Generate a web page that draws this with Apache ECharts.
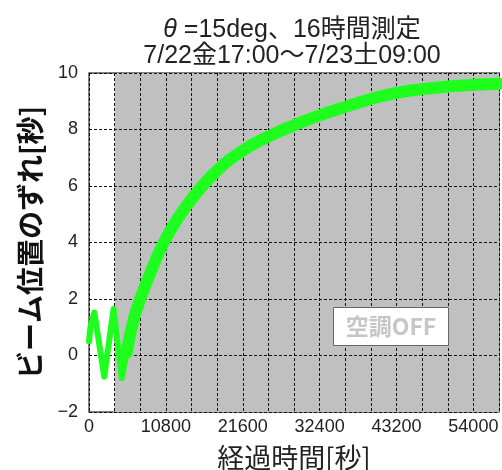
<!DOCTYPE html>
<html>
<head>
<meta charset="utf-8">
<script src="https://cdn.jsdelivr.net/npm/echarts@6/dist/echarts.min.js"></script>
<style>
  html, body { margin: 0; padding: 0; background: #fff; }
  #chart { width: 502px; height: 470px; }
</style>
</head>
<body>
<div id="chart"></div>
<script>
// Beam position shift over a 16 h run: air conditioning cycles first, then is switched off
const zigzagTime  = [0, 200, 750, 2150, 3450, 4600, 5300];
const zigzagShift = [0.5, 1.0, 1.52, -0.75, 1.65, -0.8, 0.1];

const driftTime  = [5300, 6200, 7200, 8600, 10400, 12600, 15100, 18000, 21600, 25200,
                    28800, 32400, 36000, 39600, 43200, 46800, 50400, 54000, 57600];
const driftShift = [0.1, 1.2, 2.0, 2.9, 3.95, 4.9, 5.75, 6.55, 7.25, 7.75,
                    8.15, 8.5, 8.8, 9.08, 9.3, 9.43, 9.52, 9.58, 9.62];

const acOffStart = 3600;
const runEnd = 57600;
const xGridStep = 3600;
const xLabelStep = 10800;
const yTicks = [-2, 0, 2, 4, 6, 8, 10];

const LATIN = '"Liberation Sans", Arial, "Noto Sans CJK JP", sans-serif';
const CJK = '"Noto Sans CJK JP", "Liberation Sans", sans-serif';
const GREEN = '#1eff1e';

const pairs = (xs, ys) => xs.map((x, i) => [x, ys[i]]);

const chart = echarts.init(document.getElementById('chart'), null, { renderer: 'canvas' });

const gridLine = { show: true, lineStyle: { color: '#111', type: [3, 2], width: 1 } };

chart.setOption({
  animation: false,
  backgroundColor: '#fff',
  title: {
    text: '{th|θ} =15deg、16時間測定\n7/22金17:00〜7/23土09:00',
    left: 287,
    top: 12,
    textAlign: 'center',
    textStyle: {
      fontFamily: LATIN,
      fontSize: 25,
      fontWeight: 'normal',
      color: '#222',
      lineHeight: 26,
      rich: {
        th: { fontFamily: LATIN, fontStyle: 'italic', fontSize: 25, color: '#222' }
      }
    }
  },
  grid: {
    left: 89, right: 3, top: 73, bottom: 58,
    outerBoundsMode: 'none',
    containLabel: false,
    show: true,
    borderColor: '#555',
    borderWidth: 1.5,
    backgroundColor: 'transparent'
  },
  xAxis: {
    type: 'value',
    z: 2,
    min: 0,
    max: runEnd,
    interval: xGridStep,
    name: '経過時間[秒]',
    nameLocation: 'middle',
    nameGap: 32,
    nameTextStyle: { fontFamily: CJK, fontSize: 27, color: '#222' },
    axisLine: { show: false },
    axisTick: { show: false },
    axisLabel: {
      fontFamily: LATIN, fontSize: 18, color: '#222', margin: 6,
      formatter: v => (v % xLabelStep === 0 ? String(v) : '')
    },
    splitLine: gridLine
  },
  yAxis: {
    type: 'value',
    z: 2,
    min: yTicks[0],
    max: yTicks[yTicks.length - 1],
    interval: 2,
    name: 'ビーム位置のずれ[秒]',
    nameLocation: 'middle',
    nameGap: 45,
    nameTextStyle: { fontFamily: CJK, fontSize: 28, fontWeight: 'bold', color: '#111' },
    axisLine: { show: false },
    axisTick: { show: false },
    axisLabel: {
      fontFamily: LATIN, fontSize: 18, color: '#222', margin: 11,
      formatter: v => String(v).replace('-', '\u2212')
    },
    splitLine: gridLine
  },
  series: [
    {
      // grey band: air conditioning off
      name: 'acOff',
      type: 'line',
      data: [],
      z: 1,
      silent: true,
      markArea: {
        silent: true,
        itemStyle: { color: '#c0c0c0' },
        data: [[{ xAxis: acOffStart }, { xAxis: runEnd }]]
      }
    },
    {
      name: 'zigzag',
      type: 'line',
      data: pairs(zigzagTime, zigzagShift),
      showSymbol: false,
      lineStyle: { color: GREEN, width: 6, join: 'round', cap: 'round' },
      z: 3
    },
    {
      name: 'drift',
      type: 'line',
      data: pairs(driftTime, driftShift),
      smooth: 0.5,
      showSymbol: false,
      lineStyle: { color: GREEN, width: 12, join: 'round', cap: 'round' },
      z: 3
    }
  ],
  graphic: [
    {
      type: 'rect',
      z: 100,
      shape: { x: 333.5, y: 307.5, width: 115, height: 38 },
      style: { fill: '#fff', stroke: '#666', lineWidth: 1 }
    },
    {
      type: 'text',
      z: 101,
      x: 391,
      y: 326,
      style: {
        text: '空調OFF',
        font: 'bold 23px "Noto Sans CJK JP", sans-serif',
        fill: '#c6c6c6',
        align: 'center',
        verticalAlign: 'middle'
      }
    }
  ]
});
</script>
</body>
</html>
